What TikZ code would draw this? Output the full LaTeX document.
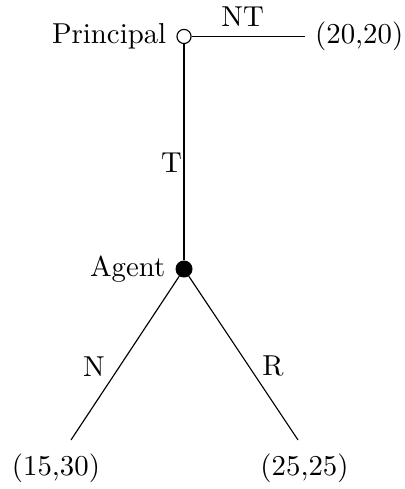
\documentclass[tikz,border=0pt]{standalone}
\begin{document}
\begin{tikzpicture}[
  opennode/.style={circle, draw, fill=white, inner sep=0pt, minimum size=4.9pt},
  solidnode/.style={circle, draw, fill=black, inner sep=0pt, minimum size=5.5pt}]
  \useasboundingbox (0,0) rectangle (4.941,5.966);

  % Principal: not trust ends the game
  \node[opennode, label=left:Principal] (prin) at (2.245,5.521) {};
  \node[anchor=west] (ntpay) at (3.721,5.521) {(20,20)};
  \draw (prin) -- node[pos=0.45, above] {NT} (ntpay);

  % Agent moves after trust
  \node[solidnode, label=left:Agent] (agent) at (2.245,2.684) {};
  \draw (prin) -- node[pos=0.55, left, inner sep=0.5pt] {T} (agent);

  % Agent's two choices
  \coordinate (nend) at (0.866,0.598);
  \coordinate (rend) at (3.636,0.598);
  \node (npay) at (0.683,0.252) {(15,30)};
  \node (rpay) at (3.715,0.252) {(25,25)};
  \draw (agent) -- node[pos=0.55, left, inner sep=5pt] {N} (nend);
  \draw (agent) -- node[pos=0.55, right, inner sep=4.5pt] {R} (rend);
\end{tikzpicture}
\end{document}
